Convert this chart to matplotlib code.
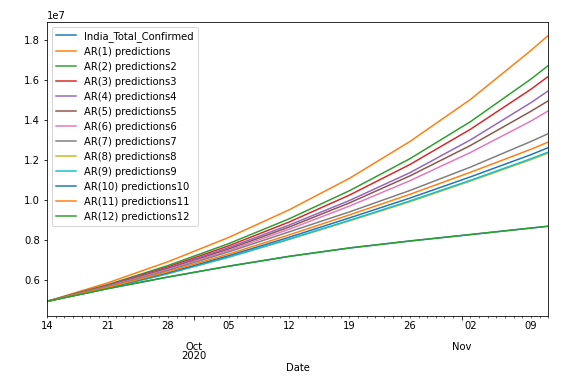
import matplotlib

matplotlib.use("Agg")

import datetime as dt
import numpy as np
import matplotlib.pyplot as plt
import matplotlib.dates as mdates
from matplotlib.ticker import FuncFormatter

# weekly sample dates (Mondays) plus the last day shown
dates = [
    "2020-09-14", "2020-09-21", "2020-09-28", "2020-10-05", "2020-10-12",
    "2020-10-19", "2020-10-26", "2020-11-02", "2020-11-09", "2020-11-11",
]

# values in millions of cases
india_total_confirmed = [4.930, 5.563, 6.145, 6.685, 7.176, 7.597, 7.946, 8.268, 8.592, 8.684]
ar1 = [4.93, 5.85, 6.91, 8.12, 9.50, 11.08, 12.92, 15.02, 17.47, 18.22]
ar2 = [4.93, 5.76, 6.72, 7.81, 9.05, 10.46, 12.06, 13.91, 16.04, 16.71]
ar3 = [4.93, 5.73, 6.65, 7.70, 8.89, 10.24, 11.77, 13.53, 15.53, 16.17]
ar4 = [4.93, 5.71, 6.60, 7.61, 8.74, 9.97, 11.36, 13.00, 14.86, 15.45]
ar5 = [4.93, 5.69, 6.56, 7.54, 8.64, 9.85, 11.20, 12.72, 14.43, 14.95]
ar6 = [4.93, 5.67, 6.52, 7.47, 8.53, 9.69, 10.96, 12.37, 13.94, 14.45]
ar7 = [4.93, 5.65, 6.47, 7.40, 8.40, 9.40, 10.47, 11.64, 12.92, 13.31]
ar8 = [4.93, 5.57, 6.31, 7.13, 8.02, 8.95, 9.91, 10.94, 12.01, 12.34]
ar9 = [4.93, 5.58, 6.32, 7.14, 8.04, 8.98, 9.95, 10.98, 12.06, 12.39]
ar10 = [4.93, 5.60, 6.36, 7.21, 8.13, 9.10, 10.09, 11.15, 12.26, 12.61]
ar11 = [4.93, 5.62, 6.41, 7.29, 8.25, 9.25, 10.28, 11.38, 12.53, 12.89]
ar12 = [4.930, 5.563, 6.145, 6.685, 7.176, 7.597, 7.946, 8.268, 8.592, 8.684]

series = [
    ("India_Total_Confirmed", india_total_confirmed),
    ("AR(1) predictions", ar1),
    ("AR(2) predictions2", ar2),
    ("AR(3) predictions3", ar3),
    ("AR(4) predictions4", ar4),
    ("AR(5) predictions5", ar5),
    ("AR(6) predictions6", ar6),
    ("AR(7) predictions7", ar7),
    ("AR(8) predictions8", ar8),
    ("AR(9) predictions9", ar9),
    ("AR(10) predictions10", ar10),
    ("AR(11) predictions11", ar11),
    ("AR(12) predictions12", ar12),
]

x = [dt.datetime.strptime(d, "%Y-%m-%d") for d in dates]

fig = plt.figure(figsize=(574 / 72, 377 / 72), dpi=72)
ax = fig.add_axes([0.082, 0.162, 0.873, 0.780])

colors = plt.rcParams["axes.prop_cycle"].by_key()["color"]
for i, (name, vals) in enumerate(series):
    ax.plot(x, np.array(vals) * 1e6, color=colors[i % len(colors)], label=name)

ax.set_xlim(x[0], x[-1])
ax.set_ylim(4.2e6, 18.9e6)

# pandas-like date axis: months as major, days as minor, Mondays labelled
ax.xaxis.set_major_locator(mdates.MonthLocator())
ax.xaxis.set_minor_locator(mdates.DayLocator())


def major_fmt(val, pos):
    d = mdates.num2date(val)
    if d.month == 10:
        return "\n\n" + d.strftime("%b") + "\n" + d.strftime("%Y")
    return "\n\n" + d.strftime("%b")


def minor_fmt(val, pos):
    d = mdates.num2date(val)
    if d.weekday() == 0:
        return d.strftime("%d")
    return ""


ax.xaxis.set_major_formatter(FuncFormatter(major_fmt))
ax.xaxis.set_minor_formatter(FuncFormatter(minor_fmt))
ax.tick_params(axis="x", which="major", length=3.5)
ax.tick_params(axis="x", which="minor", length=2)

ax.set_xlabel("Date", labelpad=2)
ax.legend(loc="upper left")

fig.canvas.draw()
for tick in ax.xaxis.get_major_ticks():
    tick.label1.set_linespacing(0.93)

fig.savefig("out.png", dpi=72)
